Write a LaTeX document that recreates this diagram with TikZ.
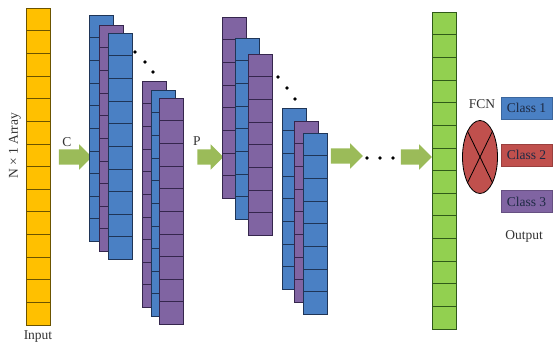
\documentclass[tikz,border=0pt]{standalone}
\usepackage{fontspec}
\setmainfont{Liberation Serif}
\usetikzlibrary{shapes.geometric,shapes.arrows}
\definecolor{cyel}{HTML}{FFC000}
\definecolor{cyelb}{HTML}{6B5300}
\definecolor{cblue}{HTML}{4A80C4}
\definecolor{cblueb}{HTML}{1F3557}
\definecolor{cpur}{HTML}{8064A2}
\definecolor{cpurb}{HTML}{35264D}
\definecolor{cgrn}{HTML}{92D050}
\definecolor{cgrnb}{HTML}{2F5A18}
\definecolor{carr}{HTML}{9BBB59}
\definecolor{cred}{HTML}{C0504D}
\definecolor{ctxt}{HTML}{333333}
\definecolor{cclass}{HTML}{1E2A44}
\tikzset{
  cellcol/.style={rectangle, inner sep=0pt, minimum width=24pt, line width=0.7pt},
  blockarrow/.style={single arrow, fill=carr, draw=none, inner xsep=0pt, inner ysep=7.5pt,
     single arrow head extend=5pt, minimum width=0pt},
  lbl/.style={text=ctxt, font=\fontsize{13.5}{15}\selectfont, inner sep=0pt},
  classbox/.style={rectangle, minimum width=51pt, minimum height=22pt, inner sep=0pt,
     text=cclass, font=\fontsize{13.5}{15}\selectfont, line width=0.4pt},
  dotc/.style={circle, fill=black, inner sep=0pt, minimum size=3.6pt}
}
\newcommand\mystack[6]{%
  \node[cellcol, fill=#5, draw=#6, minimum height=#4*22.65pt, anchor=north west] (#1) at (#2,#3) {};
  \pgfmathtruncatemacro\mynm{#4-1}%
  \foreach \k in {1,...,\mynm}{\draw[draw=#6, line width=0.7pt] (#1.north west) ++(0,\k*22.65) -- ++(24,0);}%
}
\begin{document}
\begin{tikzpicture}[x=1pt,y=-1pt]
\useasboundingbox (0,0) rectangle (560,344);
% input
\mystack{inp}{26}{8}{14}{cyel}{cyelb}
\node[lbl, rotate=90] (arr) at (15,146) {N × 1 Array};
\node[lbl] (inlbl) at (38,337) {Input};
% arrow C
\node[blockarrow, minimum height=33pt] (ac) at (71.5,157) {};
\node[lbl] (lc) at (67,142) {C};
% group 1
\mystack{s1}{89}{15}{10}{cblue}{cblueb}
\mystack{s2}{99}{25}{10}{cpur}{cpurb}
\mystack{s3}{108}{33}{10}{cblue}{cblueb}
\node[dotc] (d1) at (135,52) {};
\node[dotc] (d2) at (145,62) {};
\node[dotc] (d3) at (153,72) {};
\mystack{s4}{142}{81}{10}{cpur}{cpurb}
\mystack{s5}{151}{90}{10}{cblue}{cblueb}
\mystack{s6}{159}{98}{10}{cpur}{cpurb}
% arrow P
\node[blockarrow, minimum height=26pt] (ap) at (206.5,157) {};
\node[lbl] (lp) at (197,141) {P};
% group 2
\mystack{t1}{222}{17}{8}{cpur}{cpurb}
\mystack{t2}{235}{38}{8}{cblue}{cblueb}
\mystack{t3}{248}{54}{8}{cpur}{cpurb}
\node[dotc] (e1) at (278,77) {};
\node[dotc] (e2) at (287,88) {};
\node[dotc] (e3) at (295,99) {};
\mystack{t4}{282}{108}{8}{cblue}{cblueb}
\mystack{t5}{294}{121}{8}{cpur}{cpurb}
\mystack{t6}{303}{133}{8}{cblue}{cblueb}
% arrows and dots
\node[blockarrow, minimum height=32pt] (a3) at (343,156) {};
\node[dotc] (f1) at (367,158) {};
\node[dotc] (f2) at (380,158) {};
\node[dotc] (f3) at (393,158) {};
\node[blockarrow, minimum height=31pt] (a4) at (412.5,157) {};
% green bar
\mystack{fc}{432}{12}{14}{cgrn}{cgrnb}
% FCN
\node[ellipse, draw=black, fill=cred, line width=0.8pt, minimum width=35pt, minimum height=73pt, inner sep=0pt] (fcn) at (480,157) {};
\draw[line width=0.8pt] (fcn.north west) -- (fcn.south east);
\draw[line width=0.8pt] (fcn.north east) -- (fcn.south west);
\node[lbl] (fcnl) at (482,104) {FCN};
% classes
\node[classbox, fill=cblue, draw=cblue!80!black] (c1) at (526.5,108) {Class 1};
\node[classbox, fill=cred, draw=cred!80!black] (c2) at (526.5,155) {Class 2};
\node[classbox, fill=cpur, draw=cpur!80!black] (c3) at (526.5,201.5) {Class 3};
\node[lbl] (outl) at (524,236) {Output};
\end{tikzpicture}
\end{document}
